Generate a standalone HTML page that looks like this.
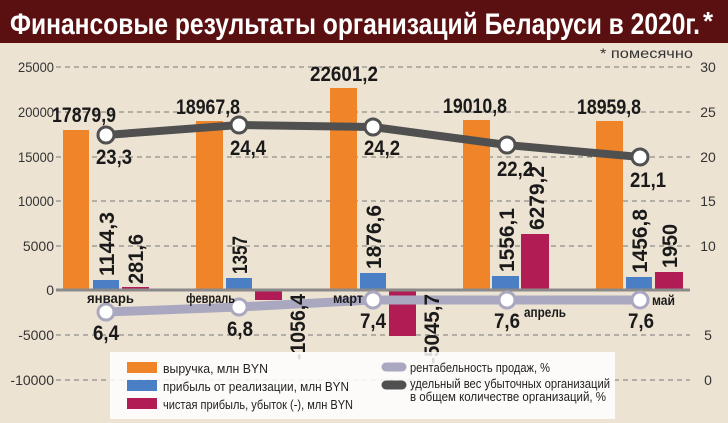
<!DOCTYPE html>
<html><head><meta charset="utf-8"><style>
html,body{margin:0;padding:0;background:#ede3d3;}
svg{display:block;}
text{font-family:"Liberation Sans",sans-serif;}
.v{font-weight:bold;font-size:21px;fill:#1a1a1a;}
.ax{font-size:14px;fill:#333;}
.m{font-weight:bold;font-size:14px;fill:#1a1a1a;}
.lg{font-size:13px;fill:#222;}
</style></head><body>
<svg width="728" height="423" viewBox="0 0 728 423" xmlns="http://www.w3.org/2000/svg">
<rect width="728" height="423" fill="#ede3d3"/>
<rect width="728" height="43" fill="#5a1010"/>
<text x="10" y="34" font-size="30" font-weight="bold" fill="#fff" textLength="690" lengthAdjust="spacingAndGlyphs">Финансовые результаты организаций Беларуси в 2020г.</text>
<text x="703" y="30" font-size="26" font-weight="bold" fill="#fff">*</text>
<text x="600" y="58" class="ax" textLength="93" lengthAdjust="spacingAndGlyphs">* помесячно</text>
<g stroke="#777" stroke-width="1" stroke-dasharray="5,4">
<line x1="56" y1="67" x2="690" y2="67"/><line x1="56" y1="112" x2="690" y2="112"/>
<line x1="56" y1="157" x2="690" y2="157"/><line x1="56" y1="201" x2="690" y2="201"/>
<line x1="56" y1="246" x2="690" y2="246"/><line x1="56" y1="335" x2="690" y2="335"/>
<line x1="56" y1="380" x2="690" y2="380"/>
</g>
<g class="ax" text-anchor="end">
<text x="54" y="72" textLength="36" lengthAdjust="spacingAndGlyphs">25000</text>
<text x="54" y="117" textLength="36" lengthAdjust="spacingAndGlyphs">20000</text>
<text x="54" y="162" textLength="36" lengthAdjust="spacingAndGlyphs">15000</text>
<text x="54" y="206" textLength="36" lengthAdjust="spacingAndGlyphs">10000</text>
<text x="54" y="251">5000</text>
<text x="54" y="295">0</text>
<text x="54" y="340">-5000</text>
<text x="54" y="385">-10000</text>
</g>
<g class="ax" text-anchor="middle">
<text x="708" y="72">30</text><text x="708" y="117">25</text><text x="708" y="162">20</text>
<text x="708" y="206">15</text><text x="708" y="251">10</text><text x="708" y="340">5</text><text x="708" y="385">0</text>
</g>
<g fill="#ef8429">
<rect x="63" y="130" width="26" height="160"/>
<rect x="196" y="121" width="27" height="169"/>
<rect x="330" y="88" width="27" height="202"/>
<rect x="463" y="120" width="27" height="170"/>
<rect x="596" y="121" width="27" height="169"/>
</g>
<g fill="#4a7fc6">
<rect x="93" y="280" width="26" height="10"/>
<rect x="226" y="278" width="26" height="12"/>
<rect x="360" y="273" width="26" height="17"/>
<rect x="492" y="276" width="27" height="14"/>
<rect x="626" y="277" width="26" height="13"/>
</g>
<g fill="#b11c55">
<rect x="122" y="287" width="27" height="3"/>
<rect x="255" y="290" width="27" height="10"/>
<rect x="389" y="290" width="27" height="46"/>
<rect x="521" y="234" width="28" height="56"/>
<rect x="655" y="272" width="28" height="18"/>
</g>
<line x1="56" y1="290" x2="690" y2="290" stroke="#8a8a8a" stroke-width="3"/>
<polyline points="106,312 239,307 373,300 507,300 640,300" fill="none" stroke="#a9a8c0" stroke-width="9"/>
<polyline points="106,135 239,125 373,127 507,145 640,157" fill="none" stroke="#505050" stroke-width="8"/>
<g fill="#fff" stroke="#a9a8c0" stroke-width="3">
<circle cx="106" cy="312" r="8"/><circle cx="239" cy="307" r="8"/><circle cx="373" cy="300" r="8"/><circle cx="507" cy="300" r="8"/><circle cx="640" cy="300" r="8"/>
</g>
<g fill="#fff" stroke="#505050" stroke-width="3">
<circle cx="106" cy="135" r="8"/><circle cx="239" cy="125" r="8"/><circle cx="373" cy="127" r="8"/><circle cx="507" cy="145" r="8"/><circle cx="640" cy="157" r="8"/>
</g>
<g class="v">
<text x="52" y="122" textLength="64" lengthAdjust="spacingAndGlyphs">17879,9</text>
<text x="176" y="114" textLength="64" lengthAdjust="spacingAndGlyphs">18967,8</text>
<text x="310" y="81" textLength="68" lengthAdjust="spacingAndGlyphs">22601,2</text>
<text x="443" y="113" textLength="64" lengthAdjust="spacingAndGlyphs">19010,8</text>
<text x="577" y="114" textLength="64" lengthAdjust="spacingAndGlyphs">18959,8</text>
<text x="96" y="164" textLength="36" lengthAdjust="spacingAndGlyphs">23,3</text>
<text x="230" y="155" textLength="36" lengthAdjust="spacingAndGlyphs">24,4</text>
<text x="364" y="155" textLength="36" lengthAdjust="spacingAndGlyphs">24,2</text>
<text x="497" y="176" textLength="36" lengthAdjust="spacingAndGlyphs">22,2</text>
<text x="630" y="187" textLength="36" lengthAdjust="spacingAndGlyphs">21,1</text>
<text x="93" y="340" textLength="26" lengthAdjust="spacingAndGlyphs">6,4</text>
<text x="227" y="336" textLength="26" lengthAdjust="spacingAndGlyphs">6,8</text>
<text x="360" y="328" textLength="26" lengthAdjust="spacingAndGlyphs">7,4</text>
<text x="494" y="328" textLength="26" lengthAdjust="spacingAndGlyphs">7,6</text>
<text x="628" y="328" textLength="26" lengthAdjust="spacingAndGlyphs">7,6</text>
</g>
<g class="v" font-size="20">
<text transform="translate(114,276) rotate(-90)" textLength="64" lengthAdjust="spacingAndGlyphs">1144,3</text>
<text transform="translate(143,284) rotate(-90)" textLength="50" lengthAdjust="spacingAndGlyphs">281,6</text>
<text transform="translate(247,274) rotate(-90)" textLength="38" lengthAdjust="spacingAndGlyphs">1357</text>
<text transform="translate(305,294) rotate(-90)" text-anchor="end" textLength="66" lengthAdjust="spacingAndGlyphs">-1056,4</text>
<text transform="translate(381,269) rotate(-90)" textLength="64" lengthAdjust="spacingAndGlyphs">1876,6</text>
<text transform="translate(439,294) rotate(-90)" text-anchor="end" textLength="70" lengthAdjust="spacingAndGlyphs">-5045,7</text>
<text transform="translate(514,272) rotate(-90)" textLength="64" lengthAdjust="spacingAndGlyphs">1556,1</text>
<text transform="translate(544,230) rotate(-90)" textLength="64" lengthAdjust="spacingAndGlyphs">6279,2</text>
<text transform="translate(647,273) rotate(-90)" textLength="64" lengthAdjust="spacingAndGlyphs">1456,8</text>
<text transform="translate(677,268) rotate(-90)" textLength="44" lengthAdjust="spacingAndGlyphs">1950</text>
</g>
<g class="m">
<text x="87" y="303" textLength="47" lengthAdjust="spacingAndGlyphs">январь</text>
<text x="186" y="303" textLength="49" lengthAdjust="spacingAndGlyphs">февраль</text>
<text x="333" y="303" textLength="30" lengthAdjust="spacingAndGlyphs">март</text>
<text x="524" y="317" textLength="42" lengthAdjust="spacingAndGlyphs">апрель</text>
<text x="652" y="305" textLength="23" lengthAdjust="spacingAndGlyphs">май</text>
</g>
<rect x="110" y="352" width="505" height="67" fill="#fff" opacity="0.85"/>
<rect x="127" y="362" width="30" height="11" fill="#ef8429"/>
<rect x="127" y="380" width="30" height="11" fill="#4a7fc6"/>
<rect x="127" y="398" width="30" height="11" fill="#b11c55"/>
<text class="lg" x="163" y="373" textLength="105" lengthAdjust="spacingAndGlyphs">выручка, млн BYN</text>
<text class="lg" x="163" y="391" textLength="186" lengthAdjust="spacingAndGlyphs">прибыль от реализации, млн BYN</text>
<text class="lg" x="163" y="409" textLength="190" lengthAdjust="spacingAndGlyphs">чистая прибыль, убыток (-), млн BYN</text>
<line x1="386" y1="367" x2="402" y2="367" stroke="#a9a8c0" stroke-width="9" stroke-linecap="round"/>
<line x1="386" y1="385" x2="402" y2="385" stroke="#505050" stroke-width="9" stroke-linecap="round"/>
<text class="lg" x="410" y="372" textLength="140" lengthAdjust="spacingAndGlyphs">рентабельность продаж, %</text>
<text class="lg" x="410" y="388" textLength="200" lengthAdjust="spacingAndGlyphs">удельный вес убыточных организаций</text>
<text class="lg" x="410" y="401" textLength="196" lengthAdjust="spacingAndGlyphs">в общем количестве организаций, %</text>
</svg>
</body></html>
